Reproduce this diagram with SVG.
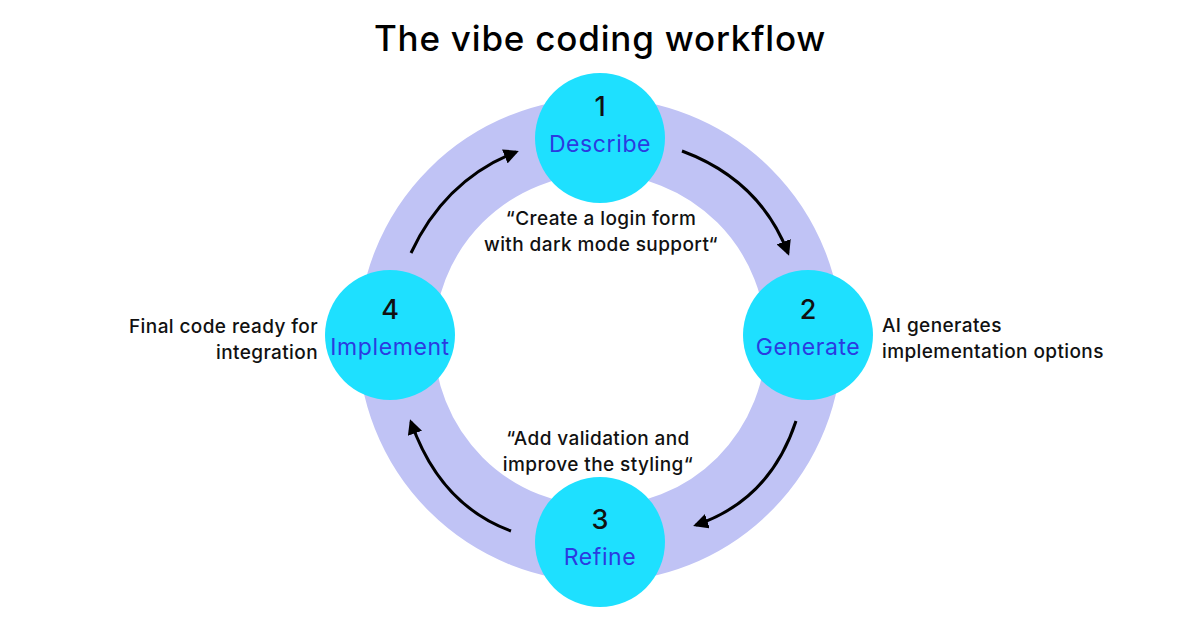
<svg xmlns="http://www.w3.org/2000/svg" width="1200" height="630" viewBox="0 0 1200 630">
<style>
text{font-family:"Inter","Liberation Sans",sans-serif}
.num{font-size:27px;fill:#111;text-anchor:middle;font-weight:500}
.lbl{font-size:23px;fill:#2b3be0;text-anchor:middle;letter-spacing:0.6px}
.t{font-size:19px;fill:#111;letter-spacing:0.4px;font-weight:500}
.node{fill:#1ee0ff}
.arr{fill:none;stroke:#000;stroke-width:3}
</style>
<defs><marker id="ah" viewBox="0 0 10 10" refX="8" refY="5" markerWidth="5" markerHeight="5" orient="auto"><path d="M0,0L10,5L0,10z" fill="#000"/></marker></defs>
<rect width="1200" height="630" fill="#fff"/>
<text x="600" y="51" font-size="35" font-weight="500" text-anchor="middle" fill="#000" letter-spacing="0.8">The vibe coding workflow</text>
<circle cx="600" cy="340" r="204" fill="none" stroke="#c0c3f5" stroke-width="76"/>
<g id="connectors">
<path class="arr" marker-end="url(#ah)" d="M411,253 Q445,180 516,152"/>
<path class="arr" marker-end="url(#ah)" d="M682,151 Q760,180 788,253"/>
<path class="arr" marker-end="url(#ah)" d="M796,421 Q770,500 696,525"/>
<path class="arr" marker-end="url(#ah)" d="M511,531 Q440,505 411,422"/>
</g>
<g id="describe"><circle class="node" cx="600" cy="138" r="65"/><text class="num" x="600" y="116">1</text><text class="lbl" x="600" y="152">Describe</text></g>
<g id="generate"><circle class="node" cx="808" cy="335" r="65"/><text class="num" x="808" y="319">2</text><text class="lbl" x="808" y="355">Generate</text></g>
<g id="refine"><circle class="node" cx="600" cy="542" r="65"/><text class="num" x="600" y="529">3</text><text class="lbl" x="600" y="565">Refine</text></g>
<g id="implement"><circle class="node" cx="390" cy="335" r="65"/><text class="num" x="390" y="319">4</text><text class="lbl" x="390" y="355">Implement</text></g>
<text class="t" x="601" y="225" text-anchor="middle">“Create a login form</text>
<text class="t" x="601" y="251" text-anchor="middle">with dark mode support“</text>
<text class="t" x="598" y="445" text-anchor="middle">“Add validation and</text>
<text class="t" x="598" y="471" text-anchor="middle">improve the styling“</text>
<text class="t" x="882" y="332">AI generates</text>
<text class="t" x="882" y="358">implementation options</text>
<text class="t" x="318" y="333" text-anchor="end">Final code ready for</text>
<text class="t" x="318" y="359" text-anchor="end">integration</text>
</svg>
